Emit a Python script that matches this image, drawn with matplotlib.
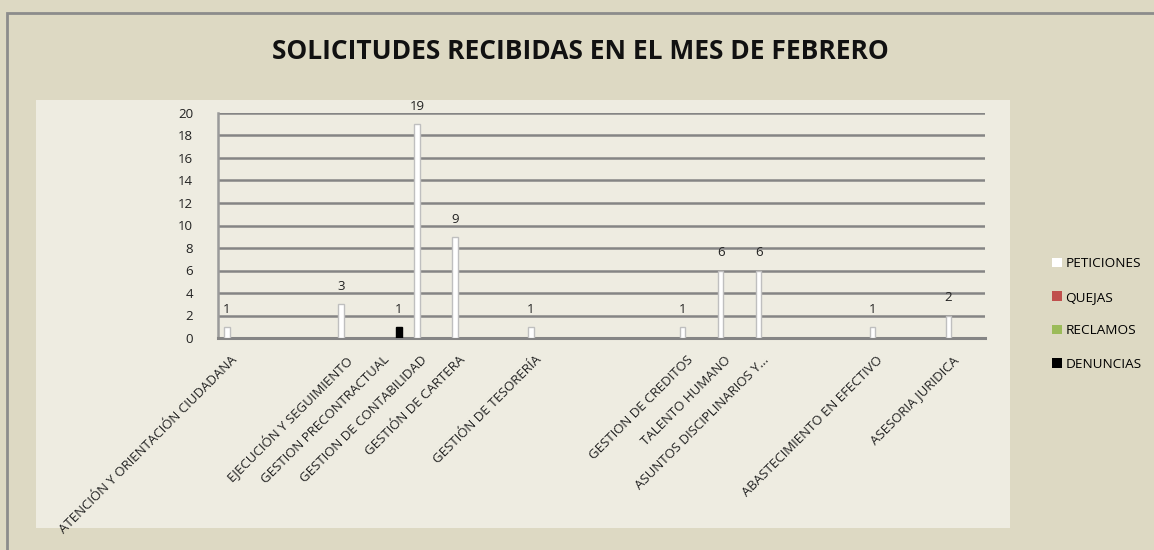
import matplotlib
matplotlib.use("Agg")
import matplotlib.pyplot as plt
from matplotlib.patches import Rectangle
import numpy as np

categories = ["ATENCIÓN Y ORIENTACIÓN CIUDADANA", "", "", "EJECUCIÓN Y SEGUIMIENTO",
              "GESTION PRECONTRACTUAL", "GESTION DE CONTABILIDAD", "GESTIÓN DE CARTERA", "",
              "GESTIÓN DE TESORERÍA", "", "", "", "GESTION DE CREDITOS", "TALENTO HUMANO",
              "ASUNTOS DISCIPLINARIOS Y...", "", "", "ABASTECIMIENTO EN EFECTIVO", "",
              "ASESORIA JURIDICA"]
peticiones = [1, 0, 0, 3, 0, 19, 9, 0, 1, 0, 0, 0, 1, 6, 6, 0, 0, 1, 0, 2]
quejas = [0] * 20
reclamos = [0] * 20
denuncias = [0, 0, 0, 0, 1, 0, 0, 0, 0, 0, 0, 0, 0, 0, 0, 0, 0, 0, 0, 0]
series_names = ["PETICIONES", "QUEJAS", "RECLAMOS", "DENUNCIAS"]
series_colors = ["#FFFFFF", "#C0504D", "#9BBB59", "#000000"]
yticks = list(range(0, 21, 2))

plt.rcParams['font.family'] = ['Open Sans', 'DejaVu Sans']

W, H = 1154, 550
fig = plt.figure(figsize=(W / 100, H / 100), dpi=100)
fig.patch.set_facecolor("#DDD9C3")

# outer frame border and inner plot-area panel
fig.add_artist(Rectangle((7 / W, -0.05), 1.1, 1 - 13 / H + 0.05, transform=fig.transFigure,
                         facecolor="none", edgecolor="#8C8C8C", lw=2))
fig.add_artist(Rectangle((36 / W, 1 - 528 / H), (1010 - 36) / W, (528 - 100) / H,
                         transform=fig.transFigure, facecolor="#EEECE1", edgecolor="none",
                         zorder=0))

ax = fig.add_axes([218 / W, 1 - 338 / H, (985 - 218) / W, (338 - 113) / H])
ax.set_facecolor("none")

x = np.arange(len(categories))
w = 0.175
all_series = [peticiones, quejas, reclamos, denuncias]
for i, (vals, name, col) in enumerate(zip(all_series, series_names, series_colors)):
    pos = x + (i - 1.5) * w
    edge = "#BFBFBF" if col == "#FFFFFF" else col
    shown = [v if v > 0 else np.nan for v in vals]
    ax.bar(pos, shown, width=w * 0.85, color=col, edgecolor=edge, lw=1.0,
           label=name, zorder=3)
    for p, v in zip(pos, vals):
        if v > 0:
            ax.annotate(str(v), (p, v), xytext=(0, 8), textcoords="offset points",
                        ha="center", va="bottom", fontsize=9.5, color="#222222")

ax.set_xlim(-0.5, 19.7)
ax.set_ylim(0, 20)
ax.set_yticks(yticks)
ax.set_yticklabels([str(t) for t in yticks], fontsize=9.5, color="#222222")
ax.yaxis.grid(True, color="#858585", lw=1.8, zorder=1)
ax.set_axisbelow(True)
for s in ["top", "right"]:
    ax.spines[s].set_visible(False)
ax.spines["left"].set_color("#9A9A9A")
ax.spines["left"].set_linewidth(1.8)
ax.spines["bottom"].set_color("#858585")
ax.spines["bottom"].set_linewidth(2.2)
ax.tick_params(axis="y", length=0, pad=18)
ax.tick_params(axis="x", length=0, pad=11)
ax.set_xticks(x - 0.17)
ax.set_xticklabels(categories, rotation=45, ha="right", va="top",
                   rotation_mode="anchor", fontsize=9.5, color="#222222")

fig.text(580 / W, 1 - 52 / H, "SOLICITUDES RECIBIDAS EN EL MES DE FEBRERO",
         ha="center", va="center", fontsize=19, fontweight="bold", color="#111111")

leg = ax.legend(loc="center left", bbox_to_anchor=(1040 / W, 1 - 314 / H),
                bbox_transform=fig.transFigure, frameon=False, fontsize=9.7,
                handlelength=0.7, handleheight=0.7, handletextpad=0.3,
                labelspacing=1.52)
for h in leg.legend_handles:
    h.set_edgecolor("none")

fig.savefig("out.png", dpi=100, facecolor=fig.get_facecolor())
